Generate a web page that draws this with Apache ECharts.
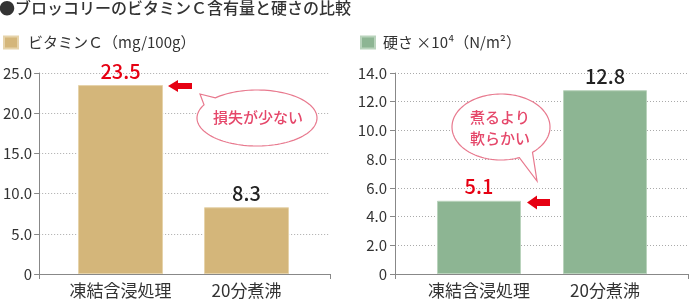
<!DOCTYPE html>
<html>
<head>
<meta charset="utf-8">
<script src="https://cdn.jsdelivr.net/npm/echarts@6/dist/echarts.min.js"></script>
<style>
html, body { margin: 0; padding: 0; background: #fff; }
#main { width: 689px; height: 299px; }
</style>
</head>
<body>
<div id="main"></div>
<script>
// data
const categories = ['凍結含浸処理', '20分煮沸'];
const vitaminC = [23.5, 8.3];
const hardness = [5.1, 12.8];
const vitaminAxis = [0, 25, 5];   // min, max, interval
const hardAxis = [0, 14, 2];

const FONT = 'Noto Sans CJK JP';
const TAN = '#D4B67A';
const GREEN = '#8DB593';
const RED = '#E60012';
const PINK = '#E5476A';

let myChart = echarts.init(document.getElementById('main'));

const tickFmt = v => v === 0 ? '0' : v.toFixed(1);

// frame axes (line, ticks, grid lines, labels)
function frameY(idx, ax, margin) {
    return {
        type: 'value', gridIndex: idx, min: ax[0], max: ax[1], interval: ax[2],
        axisLine: { show: true, lineStyle: { color: '#888' } },
        axisTick: { show: true, length: 5, lineStyle: { color: '#888' } },
        axisLabel: { formatter: tickFmt, color: '#333', fontSize: 15, fontFamily: FONT, margin: margin },
        splitLine: { show: true, lineStyle: { color: '#aaa', type: [1, 2] } }
    };
}
function frameX(idx) {
    return {
        type: 'value', gridIndex: idx, min: 0, max: 1, interval: 1,
        axisLine: { show: true, lineStyle: { color: '#888' } },
        axisTick: { show: true, length: 5, lineStyle: { color: '#888' } },
        axisLabel: { show: false }, splitLine: { show: false }
    };
}
// bar axes (categories only)
function barX(idx) {
    return {
        type: 'category', gridIndex: idx, data: categories,
        axisLine: { show: false }, axisTick: { show: false },
        axisLabel: { interval: 0, color: '#333', fontSize: 17, fontFamily: FONT, margin: 8 }
    };
}
function barY(idx, ax) {
    return { type: 'value', gridIndex: idx, min: ax[0], max: ax[1], show: false, splitLine: { show: false } };
}

function labelled(values, redIndex) {
    return values.map((v, i) => i === redIndex ? { value: v, label: { color: RED } } : v);
}

function bubble(cx, cy, rx, ry, t1, t2, tip) {
    let pts = [];
    for (let a = t1; a < t2 + 360; a += 3) {
        let r = a * Math.PI / 180;
        pts.push([cx + rx * Math.cos(r), cy + ry * Math.sin(r)]);
    }
    let r = (t2 + 360) * Math.PI / 180;
    pts.push([cx + rx * Math.cos(r), cy + ry * Math.sin(r)]);
    pts.push(tip);
    return pts;
}

function arrow(tipX, y, headX, endX, headH, shaftH) {
    return [[tipX, y], [headX, y - headH], [headX, y - shaftH], [endX, y - shaftH],
            [endX, y + shaftH], [headX, y + shaftH], [headX, y + headH]];
}

myChart.setOption({
    animation: false,
    textStyle: { fontFamily: FONT },
    title: {
        text: '●ブロッコリーのビタミンＣ含有量と硬さの比較',
        left: -1, top: 0, padding: 0,
        textStyle: { fontSize: 16, fontWeight: 500, color: '#333', fontFamily: FONT }
    },
    legend: [
        { data: ['ビタミンＣ（mg/100g）'], left: 3, top: 35, itemWidth: 14, itemHeight: 12, padding: 0,
          icon: 'rect', textStyle: { fontSize: 15, color: '#333', fontFamily: FONT, padding: [0, 0, 0, 5] } },
        { data: ['硬さ ×10⁴（N/m²）'], left: 360, top: 35, itemWidth: 14, itemHeight: 12, padding: 0,
          icon: 'rect', textStyle: { fontSize: 15, color: '#333', fontFamily: FONT, padding: [0, 0, 0, 3] } }
    ],
    grid: [
        { left: 37, right: 359, top: 73, bottom: 25 },
        { left: 57.5, right: 379.5, top: 73, bottom: 25 },
        { left: 395, right: 1, top: 73, bottom: 25 },
        { left: 416, right: 21, top: 73, bottom: 25 }
    ],
    xAxis: [frameX(0), barX(1), frameX(2), barX(3)],
    yAxis: [frameY(0, vitaminAxis, 7), barY(1, vitaminAxis), frameY(2, hardAxis, 8), barY(3, hardAxis)],
    series: [
        {
            name: 'ビタミンＣ（mg/100g）', type: 'bar', xAxisIndex: 1, yAxisIndex: 1,
            data: labelled(vitaminC, 0), barWidth: 85,
            itemStyle: { color: TAN, borderColor: '#E6D3AA', borderWidth: 1 },
            label: { show: true, position: 'top', distance: 4, fontSize: 20, fontWeight: 500, color: '#222', fontFamily: FONT }
        },
        {
            name: '硬さ ×10⁴（N/m²）', type: 'bar', xAxisIndex: 3, yAxisIndex: 3,
            data: labelled(hardness, 0), barWidth: 84,
            itemStyle: { color: GREEN, borderColor: '#B9D3BC', borderWidth: 1 },
            label: { show: true, position: 'top', distance: 4, fontSize: 20, fontWeight: 500, color: '#222', fontFamily: FONT }
        }
    ],
    graphic: [
        { type: 'polygon', z: 100, shape: { points: bubble(257, 118, 60, 28, 226, 208, [200, 94]) },
          style: { fill: '#fff', stroke: '#E8798E', lineWidth: 1.2 } },
        { type: 'text', z: 101, x: 258, y: 117,
          style: { text: '損失が少ない', fill: PINK, font: '500 15px ' + FONT, align: 'center', verticalAlign: 'middle' } },
        { type: 'polygon', z: 100, shape: { points: bubble(501, 127, 49, 33, 68, 50, [537, 181]) },
          style: { fill: '#fff', stroke: '#E8798E', lineWidth: 1.2 } },
        { type: 'text', z: 101, x: 500, y: 117,
          style: { text: '煮るより', fill: PINK, font: '500 15px ' + FONT, align: 'center', verticalAlign: 'middle' } },
        { type: 'text', z: 101, x: 500, y: 138,
          style: { text: '軟らかい', fill: PINK, font: '500 15px ' + FONT, align: 'center', verticalAlign: 'middle' } },
        { type: 'polygon', z: 100, shape: { points: arrow(168, 86, 178, 192, 6, 3) }, style: { fill: RED } },
        { type: 'polygon', z: 100, shape: { points: arrow(527, 202.5, 537, 550, 7, 3.5) }, style: { fill: RED } }
    ]
});
</script>
</body>
</html>
